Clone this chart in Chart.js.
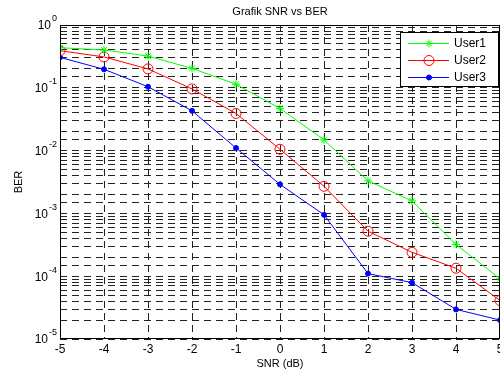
<!DOCTYPE html>
<html>
<head>
<meta charset="utf-8">
<script src="https://cdn.jsdelivr.net/npm/chart.js@4.4.0/dist/chart.umd.min.js"></script>
<style>
  html, body { margin: 0; padding: 0; background: #fff; overflow: hidden; }
  #wrap { width: 500px; height: 372px; overflow: hidden; }
</style>
</head>
<body>
<div id="wrap"><canvas id="chart" width="520" height="372"></canvas></div>
<script>
// SNR (dB) on the x axis
const snr = [-5, -4, -3, -2, -1, 0, 1, 2, 3, 4, 5];

// BER values
const user1 = [0.435, 0.40, 0.32, 0.204, 0.114, 0.047, 0.0148, 0.0033, 0.00158, 0.00032, 0.000091];
const user2 = [0.39, 0.31, 0.20, 0.096, 0.039, 0.0105, 0.0027, 0.00052, 0.00024, 0.000134, 0.000041];
const user3 = [0.305, 0.197, 0.104, 0.043, 0.011, 0.0029, 0.00095, 0.00011, 0.000079, 0.0000296, 0.00002];

const yDecades = [0, -1, -2, -3, -4, -5];
const seriesNames = ['User1', 'User2', 'User3'];

const FONT = 'Liberation Sans, Arial, sans-serif';

function toPoints(ys) {
    return snr.map((x, i) => ({ x: x, y: ys[i] }));
}

// frame, title, axis titles, y labels with exponents and the boxed legend
const extras = {
    id: 'extras',
    afterDraw(chart) {
        const ctx = chart.ctx;
        const a = chart.chartArea;
        const yScale = chart.scales.y;
        ctx.save();

        // frame
        ctx.strokeStyle = '#000';
        ctx.lineWidth = 1;
        ctx.setLineDash([]);
        ctx.strokeRect(a.left + 0.5, a.top + 0.5, a.right - a.left - 1, a.bottom - a.top - 1);

        ctx.fillStyle = '#000';
        // title
        ctx.font = '11px ' + FONT;
        ctx.textAlign = 'center';
        ctx.textBaseline = 'middle';
        ctx.fillText('Grafik SNR vs BER', (a.left + a.right) / 2, 12);

        // x axis title
        ctx.fillText('SNR (dB)', (a.left + a.right) / 2, 364);

        // y axis title
        ctx.save();
        ctx.translate(19, (a.top + a.bottom) / 2);
        ctx.rotate(-Math.PI / 2);
        ctx.fillText('BER', 0, 0);
        ctx.restore();

        // y tick labels 10^n
        yDecades.forEach(p => {
            const y = yScale.getPixelForValue(Math.pow(10, p));
            const exp = String(p);
            ctx.font = '9px ' + FONT;
            const ew = ctx.measureText(exp).width;
            ctx.textAlign = 'right';
            ctx.textBaseline = 'middle';
            ctx.fillText(exp, a.left - 3, y - 6);
            ctx.font = '12px ' + FONT;
            ctx.fillText('10', a.left - 4 - ew, y + 1);
        });

        // legend
        const lx = 400, ly = 32, lw = 99, lh = 55;
        ctx.fillStyle = '#fff';
        ctx.fillRect(lx, ly, lw, lh);
        ctx.strokeStyle = '#000';
        ctx.strokeRect(lx + 0.5, ly + 0.5, lw - 1, lh - 1);
        const rows = [43, 60, 77];
        chart.data.datasets.forEach((ds, i) => {
            const yy = rows[i];
            ctx.strokeStyle = ds.borderColor;
            ctx.lineWidth = 1;
            ctx.beginPath();
            ctx.moveTo(408, yy + 0.5);
            ctx.lineTo(449, yy + 0.5);
            ctx.stroke();
            ctx.strokeStyle = ds.pointBorderColor;
            ctx.fillStyle = ds.pointBackgroundColor;
            Chart.helpers.drawPoint(ctx, {
                pointStyle: ds.pointStyle,
                radius: ds.pointRadius,
                borderWidth: 1,
                rotation: 0
            }, 429, yy + 0.5);
            ctx.fillStyle = '#000';
            ctx.font = '12px ' + FONT;
            ctx.textAlign = 'left';
            ctx.textBaseline = 'middle';
            ctx.fillText(seriesNames[i], 454, yy + 1);
        });
        ctx.restore();
    }
};

const ctx = document.getElementById('chart').getContext('2d');
const chart = new Chart(ctx, {
    type: 'line',
    data: {
        datasets: [{
            label: seriesNames[0],
            data: toPoints(user1),
            borderColor: '#00ff00',
            backgroundColor: '#00ff00',
            pointStyle: 'star',
            pointRadius: 4,
            pointBorderColor: '#00ff00',
            pointBackgroundColor: '#00ff00',
            borderWidth: 1,
            pointBorderWidth: 1
        }, {
            label: seriesNames[1],
            data: toPoints(user2),
            borderColor: '#ff0000',
            backgroundColor: '#ff0000',
            pointStyle: 'circle',
            pointRadius: 5,
            pointBorderColor: '#ff0000',
            pointBackgroundColor: 'rgba(0,0,0,0)',
            borderWidth: 1,
            pointBorderWidth: 1
        }, {
            label: seriesNames[2],
            data: toPoints(user3),
            borderColor: '#0000ff',
            backgroundColor: '#0000ff',
            pointStyle: 'circle',
            pointRadius: 2.5,
            pointBorderColor: '#0000ff',
            pointBackgroundColor: '#0000ff',
            borderWidth: 1,
            pointBorderWidth: 1
        }]
    },
    options: {
        responsive: false,
        animation: false,
        layout: { padding: { left: 0, top: 25, right: 20, bottom: 0 } },
        plugins: {
            legend: { display: false },
            title: { display: false },
            tooltip: { enabled: false }
        },
        scales: {
            x: {
                type: 'linear',
                min: -5,
                max: 5,
                afterFit: s => { s.height = 33; },
                ticks: {
                    stepSize: 1,
                    color: '#000',
                    font: { size: 12, family: FONT },
                    padding: 3
                },
                grid: { color: '#222', lineWidth: 1, drawTicks: false },
                border: { display: false, dash: [7, 5] }
            },
            y: {
                type: 'logarithmic',
                min: 1e-5,
                max: 1,
                afterFit: s => { s.width = 60; },
                ticks: { display: false, autoSkip: false },
                grid: { color: '#222', lineWidth: 1, drawTicks: false },
                border: { display: false, dash: [7, 5] }
            }
        }
    },
    plugins: [extras]
});
</script>
</body>
</html>
